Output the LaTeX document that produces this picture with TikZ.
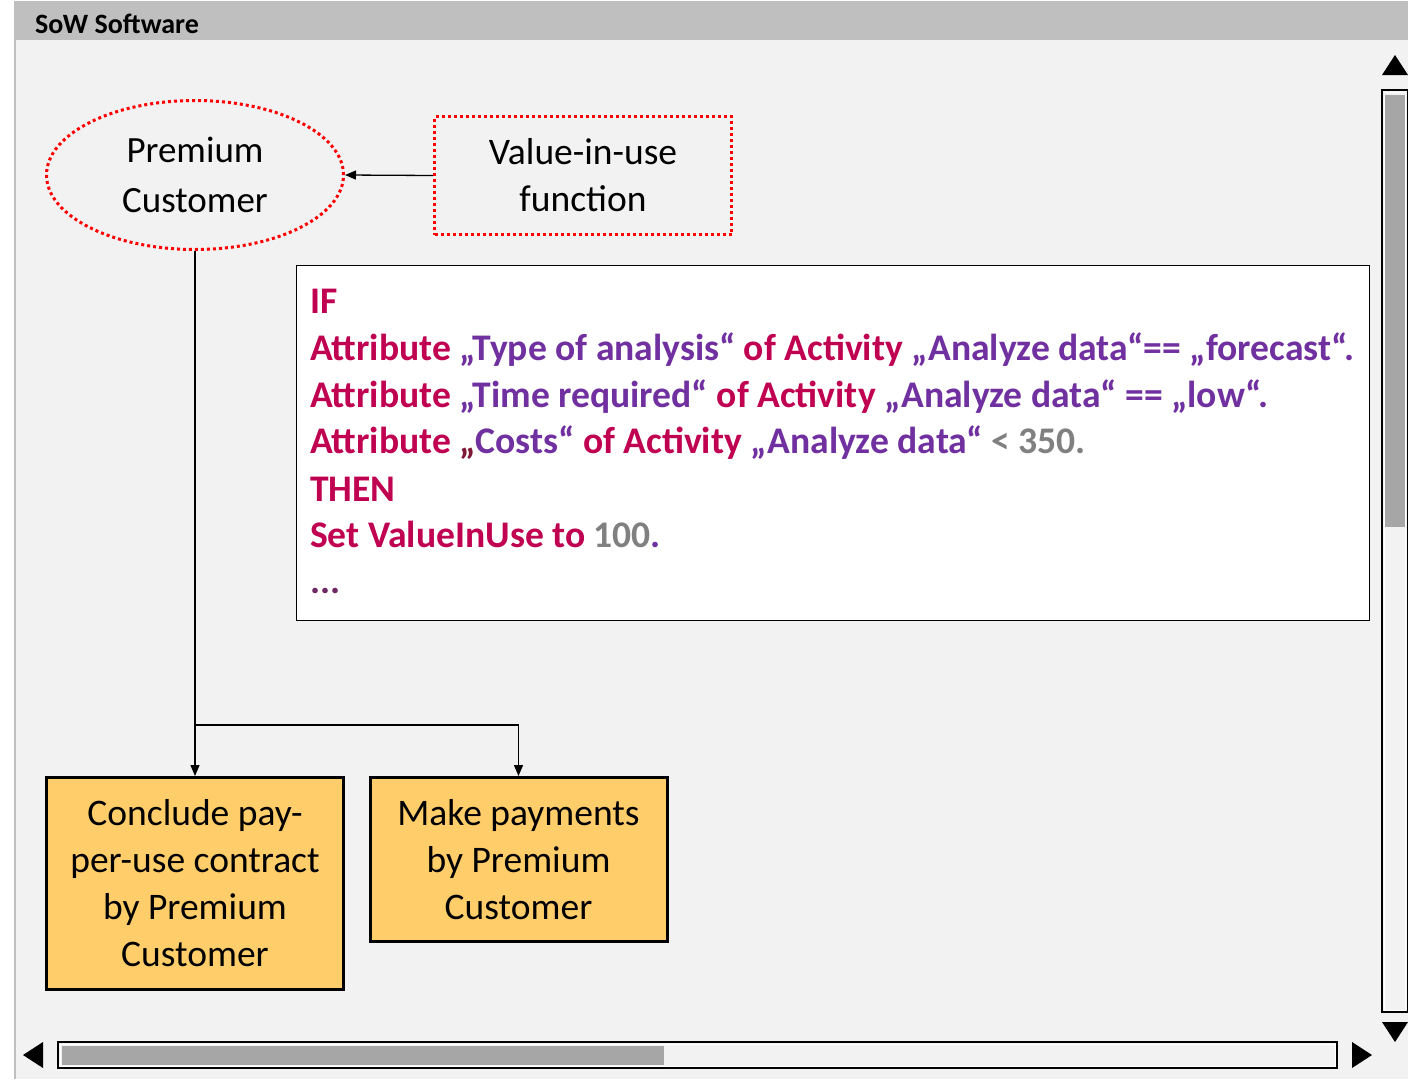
\documentclass[tikz,border=0pt]{standalone}
\usepackage{fontspec}
\setmainfont{Carlito}
\usetikzlibrary{arrows.meta,shapes.geometric}
\definecolor{panelbg}{RGB}{242,242,242}
\definecolor{headgray}{RGB}{191,191,191}
\definecolor{thumbgray}{RGB}{166,166,166}
\definecolor{rulered}{RGB}{192,0,80}
\definecolor{rulepurple}{RGB}{112,48,160}
\definecolor{rulegray}{RGB}{128,128,128}
\definecolor{rulemaroon}{RGB}{128,24,56}
\definecolor{dotpurple}{RGB}{110,40,100}
\definecolor{taskfill}{RGB}{255,205,105}
\newcommand{\kw}[1]{\textcolor{rulered}{#1}}
\newcommand{\qv}[1]{\textcolor{rulepurple}{#1}}
\newcommand{\nv}[1]{\textcolor{rulegray}{#1}}
\begin{document}
\begin{tikzpicture}[x=1pt,y=-1pt,
  bigtext/.style={font=\fontsize{37.5}{47}\selectfont},
  redpoint/.style={draw=red, line width=3pt, dash pattern=on 3pt off 3pt},
  taskbox/.style={draw=black, line width=3pt, fill=taskfill, align=center, bigtext, inner sep=0pt},
  ruleline/.style={anchor=base west, inner sep=0pt, font=\bfseries\fontsize{37.6}{47}\selectfont},
  conn/.style={draw=black, line width=1.3pt},
  tip/.style={-{Triangle[length=11pt,width=9pt]}}]
\useasboundingbox (0,0) rectangle (1408,1079);
% window frame
\fill[white] (0,0) rectangle (1408,1079);
\fill[panelbg] (14,40) rectangle (1408,1079);
\fill[headgray] (14,1) rectangle (1408,40);
\draw[headgray, line width=2pt] (15,40) -- (15,1079);
\node[anchor=base west, inner sep=0pt, font=\bfseries\fontsize{28}{34}\selectfont] (title) at (35,33) {SoW Software};

% role and value function
\node[ellipse, redpoint, minimum width=297pt, minimum height=149pt, inner sep=0pt,
      align=center, font=\fontsize{37}{50}\selectfont] (pc) at (195,175) {Premium\\Customer};
\node[rectangle, redpoint, minimum width=297pt, minimum height=118pt, inner sep=0pt,
      align=center, bigtext] (vf) at (583,175.5) {Value-in-use\\function};
\draw[conn, tip] (vf.west) -- (pc.east);

% rule box
\node[draw=black, fill=white, line width=1.8pt, minimum width=1073pt, minimum height=355pt, inner sep=0pt] (rule) at (833,443) {};
\node[ruleline] (r1) at (310,313) {\kw{IF}};
\node[ruleline] (r2) at (310,360) {\kw{Attribute} \qv{„Type of analysis“} \kw{of Activity} \qv{„Analyze data“== „forecast“.}};
\node[ruleline] (r3) at (310,407) {\kw{Attribute} \qv{„Time required“} \kw{of Activity} \qv{„Analyze data“ == „low“.}};
\node[ruleline] (r4) at (310,453.5) {\kw{Attribute} \textcolor{rulemaroon}{„}\qv{Costs“} \kw{of Activity} \qv{„Analyze data“} \nv{< 350.}};
\node[ruleline] (r5) at (310,501) {\kw{THEN}};
\node[ruleline] (r6) at (310,547.5) {\kw{Set ValueInUse to} \nv{100}\qv{.}};
\node[ruleline] (r7) at (310,593) {\textcolor{dotpurple}{...}};

% tasks
\node[taskbox, minimum width=297pt, minimum height=212pt] (b1) at (195,883.5) {Conclude pay-\\per-use contract\\by Premium\\Customer};
\node[taskbox, minimum width=297pt, minimum height=164pt] (b2) at (518.5,859.5) {Make payments\\by Premium\\Customer};
\coordinate (split) at (195,725);
\draw[conn, tip] (pc.south) -- (b1.north);
\draw[conn, tip] (split) -| (b2.north);

% vertical scroll bar
\fill[black] (1382,75) -- (1395,55) -- (1408,75) -- cycle;
\draw[black, line width=1.6pt, fill=panelbg] (1382,90) rectangle (1407.5,1012);
\draw[white, line width=0.8pt] (1384,92) rectangle (1405.5,1010);
\fill[thumbgray] (1385,95) rectangle (1405,527);
\fill[black] (1382,1022) -- (1408,1022) -- (1395,1042) -- cycle;
% horizontal scroll bar
\fill[black] (43,1042) -- (23,1055) -- (43,1068) -- cycle;
\draw[black, line width=1.6pt, fill=panelbg] (58,1042) rectangle (1337,1068);
\draw[white, line width=0.8pt] (60,1044) rectangle (1335,1066);
\fill[thumbgray] (62,1046) rectangle (664,1065);
\fill[black] (1352,1042) -- (1372,1055) -- (1352,1068) -- cycle;
\end{tikzpicture}
\end{document}
